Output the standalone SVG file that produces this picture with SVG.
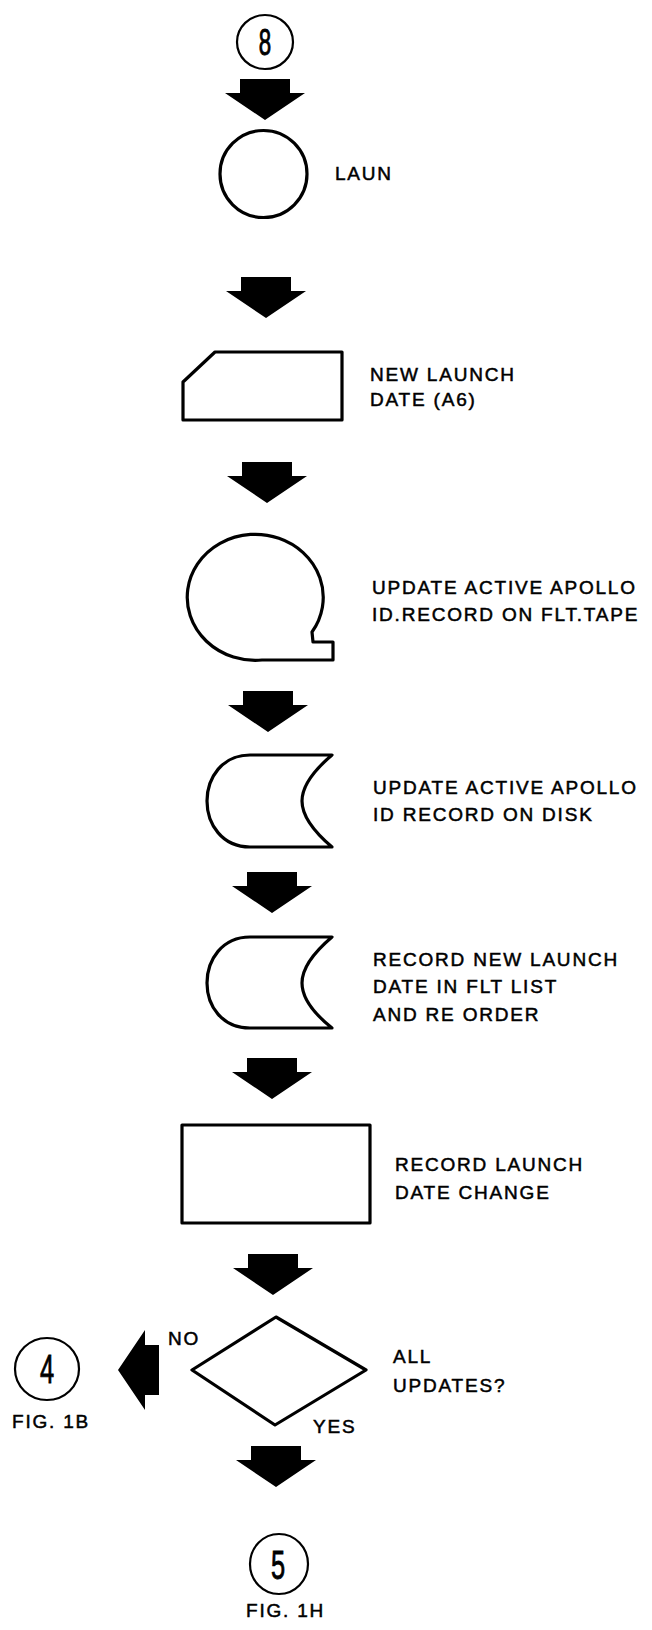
<svg xmlns="http://www.w3.org/2000/svg" width="652" height="1630" viewBox="0 0 652 1630">
<style>
.s{fill:#fff;stroke:#000;stroke-width:3.2;stroke-linejoin:round}
.c{fill:#fff;stroke:#000;stroke-width:2.2}
.t{font-family:"Liberation Sans",Arial,sans-serif;font-size:19px;letter-spacing:1.8px;fill:#000;stroke:#000;stroke-width:0.5}
.d{font-family:"Liberation Sans",Arial,sans-serif;fill:#000;stroke:#000;stroke-width:0.9;text-anchor:middle}
.a{fill:#000}
</style>
<defs>
<path id="arr" class="a" d="M-25,-41 H25 V-27 H40 L0,0 L-40,-27 H-25 Z"/>
</defs>
<g id="connectors">
<use href="#arr" x="265" y="120"/>
<use href="#arr" x="266" y="318"/>
<use href="#arr" x="267" y="503"/>
<use href="#arr" x="268" y="732"/>
<use href="#arr" x="272" y="913"/>
<use href="#arr" x="272" y="1099"/>
<use href="#arr" x="273" y="1295"/>
<use href="#arr" x="276" y="1487"/>
<use href="#arr" transform="translate(118,1370) rotate(90)"/>
</g>
<g id="conn8">
<ellipse class="c" cx="265" cy="42" rx="28" ry="27"/>
<text class="d" font-size="36" transform="translate(265,55) scale(0.62,1)">8</text>
</g>
<g id="laun">
<circle class="s" cx="263.5" cy="174" r="43.5"/>
<text class="t" x="335" y="180">LAUN</text>
</g>
<g id="newdate">
<path class="s" d="M215,352 H342 V420 H183 V382 Z"/>
<text class="t" x="370" y="381">NEW LAUNCH</text>
<text class="t" x="370" y="406">DATE (A6)</text>
</g>
<g id="tape">
<path class="s" d="M333,660 L262,660 A68 63 0 1 1 312,632 L313,642 L333,642 Z"/>
<text class="t" x="372" y="594">UPDATE ACTIVE APOLLO</text>
<text class="t" x="372" y="621">ID.RECORD ON FLT.TAPE</text>
</g>
<g id="disk1">
<path class="s" d="M332,755 H250 C222,755 207,778 207,801 C207,824 222,847 250,847 H332 C312,830 302,815 302,801 C302,787 312,772 332,755 Z"/>
<text class="t" x="373" y="794">UPDATE ACTIVE APOLLO</text>
<text class="t" x="373" y="821">ID RECORD ON DISK</text>
</g>
<g id="disk2">
<path class="s" d="M332,937 H250 C222,937 207,960 207,983 C207,1006 222,1028 250,1028 H332 C312,1012 302,997 302,983 C302,969 312,954 332,937 Z"/>
<text class="t" x="373" y="966">RECORD NEW LAUNCH</text>
<text class="t" x="373" y="993">DATE IN FLT LIST</text>
<text class="t" x="373" y="1021">AND RE ORDER</text>
</g>
<g id="record">
<rect class="s" x="182" y="1125" width="188" height="98"/>
<text class="t" x="395" y="1171">RECORD LAUNCH</text>
<text class="t" x="395" y="1199">DATE CHANGE</text>
</g>
<g id="decision">
<path class="s" d="M192,1370 L276,1317 L366,1370 L275,1425 Z"/>
<text class="t" x="393" y="1363">ALL</text>
<text class="t" x="393" y="1392" letter-spacing="0.6">UPDATES?</text>
<text class="t" x="168" y="1345">NO</text>
<text class="t" x="313" y="1433">YES</text>
</g>
<g id="conn4">
<ellipse class="c" cx="47" cy="1369" rx="32" ry="31"/>
<text class="d" font-size="41" transform="translate(47,1383) scale(0.62,1)">4</text>
<text class="t" x="12" y="1428" letter-spacing="1.2">FIG. 1B</text>
</g>
<g id="conn5">
<ellipse class="c" cx="279" cy="1564" rx="29" ry="30"/>
<text class="d" font-size="41" transform="translate(278,1579) scale(0.62,1)">5</text>
<text class="t" x="246" y="1617" font-size="18" letter-spacing="0.4">FIG. 1H</text>
</g>
</svg>
